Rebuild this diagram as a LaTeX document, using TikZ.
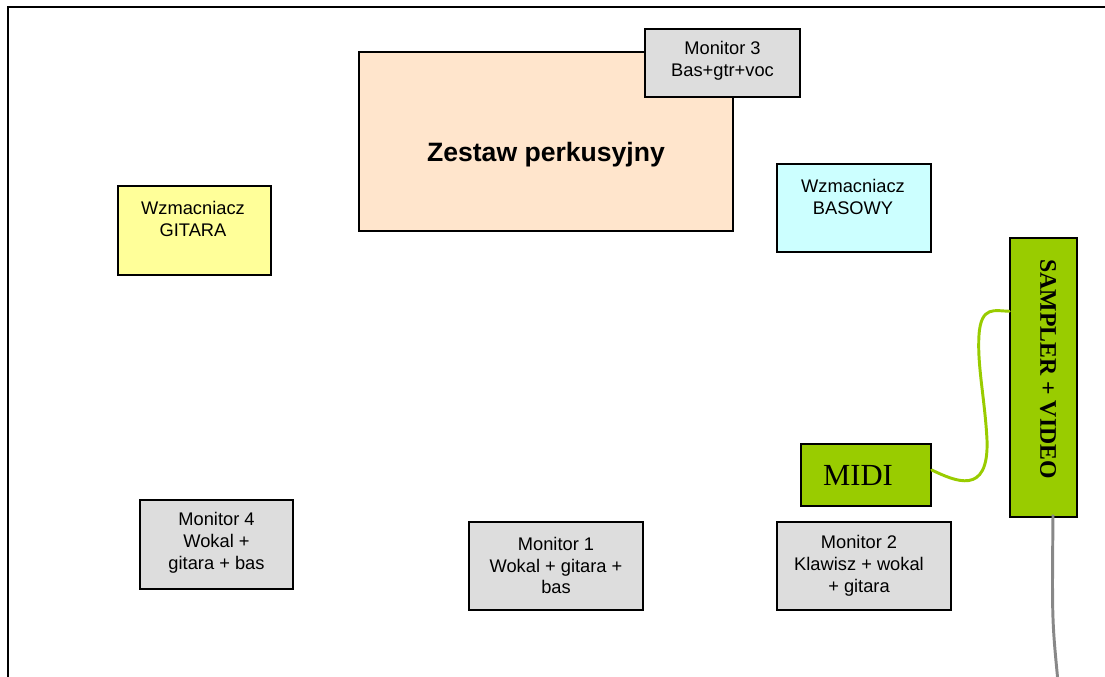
\documentclass[tikz,border=0pt]{standalone}
\usepackage{fontspec}
\setmainfont{Liberation Sans}
\newfontfamily\timesface{Liberation Serif}
\usetikzlibrary{calc}

\definecolor{drumpeach}{HTML}{FFE5CC}
\definecolor{ampyellow}{HTML}{FFFF99}
\definecolor{ampcyan}{HTML}{CCFFFF}
\definecolor{mongray}{HTML}{DDDDDD}
\definecolor{samplergreen}{HTML}{99CC00}
\definecolor{cablegray}{HTML}{888888}

\tikzset{
  box/.style={rectangle, draw=black, line width=1pt, inner sep=0pt},
  boxtext/.style={inner sep=0pt, align=center, font=\fontsize{13}{15.6}\selectfont},
  cable/.style={line width=2.1pt, line cap=round}
}

\begin{document}
\begin{tikzpicture}[x=0.025cm, y=-0.025cm]
  \useasboundingbox (0,0) rectangle (1105,677);

  % stage outline
  \draw[line width=1.4pt] (8,680) -- (8,7) -- (1110,7);

  \begin{scope}[every node/.style={box}]
    \node[fill=drumpeach, minimum width=9.35cm, minimum height=4.475cm] (drums) at (546,141.5) {};
    \node[fill=mongray, minimum width=3.875cm, minimum height=1.7cm] (mon3) at (722.5,63) {};
    \node[fill=ampcyan, minimum width=3.85cm, minimum height=2.2cm] (bass) at (854,208) {};
    \node[fill=ampyellow, minimum width=3.825cm, minimum height=2.225cm] (guitar) at (194.5,230.5) {};
    \node[fill=samplergreen, minimum width=1.675cm, minimum height=6.975cm] (sampler) at (1043.5,377.5) {};
    \node[fill=samplergreen, minimum width=3.25cm, minimum height=1.55cm] (midi) at (866,475) {};
    \node[fill=mongray, minimum width=3.825cm, minimum height=2.225cm] (mon4) at (216.5,544.5) {};
    \node[fill=mongray, minimum width=4.35cm, minimum height=2.2cm] (mon1) at (556,566) {};
    \node[fill=mongray, minimum width=4.35cm, minimum height=2.2cm] (mon2) at (864,566) {};
  \end{scope}

  \begin{scope}[every node/.style={boxtext}]
    \node[font=\fontsize{18.9}{22}\selectfont\bfseries] (drums text) at (546,155) {Zestaw perkusyjny};
    \node (mon3 text) at (722.5,60.5) {Monitor 3\\Bas+gtr+voc};
    \node (bass text) at (853,197) {Wzmacniacz\\BASOWY};
    \node (guitar text) at (193,218.5) {Wzmacniacz\\GITARA};
    \node (mon4 text) at (216.5,543) {Monitor 4\\Wokal +\\gitara + bas};
    \node (mon1 text) at (556,565.5) {Monitor 1\\Wokal + gitara +\\bas};
    \node (mon2 text) at (859,565.5) {Monitor 2\\Klawisz + wokal\\+ gitara};
    \node[font=\fontsize{21.8}{24}\timesface] (midi text) at (858,475) {MIDI};
    \node[font=\fontsize{16.9}{20}\timesface\bfseries, rotate=-90] (sampler text) at (1048,369) {SAMPLER + VIDEO};
  \end{scope}

  % cables
  \coordinate (gray end) at (1058,682);
  \draw[cable, draw=samplergreen] ($(midi.east)+(0,-5)$) .. controls (955,481) and (989,497) .. (987,440)
    .. controls (985,400) and (977,365) .. (979,335)
    .. controls (981,305) and (995,311) .. ($(sampler.north west)+(0,74)$);
  \draw[cable, draw=cablegray, line cap=butt] ($(sampler.south)+(9.5,-3)$) .. controls (1052,620) .. (gray end);

\end{tikzpicture}
\end{document}
